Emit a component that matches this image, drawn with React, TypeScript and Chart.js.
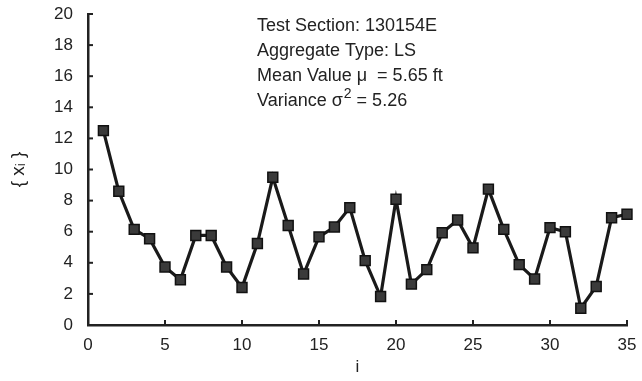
import React, { useEffect, useRef } from "react";
import { Chart, registerables } from "chart.js";

Chart.register(...registerables);

const indices = [
  1, 2, 3, 4, 5, 6, 7, 8, 9, 10, 11, 12, 13, 14, 15, 16, 17, 18, 19, 20, 21, 22, 23, 24, 25, 26, 27, 28, 29, 30, 31, 32, 33, 34, 35,
];
const values = [
  12.5, 8.6, 6.15, 5.55, 3.73, 2.91, 5.76, 5.76, 3.73, 2.41, 5.24, 9.5, 6.4, 3.28, 5.67, 6.3, 7.55, 4.14, 1.83, 8.09, 2.63, 3.56,
  5.93, 6.75, 4.96, 8.74, 6.15, 3.88, 2.96, 6.26, 6.0, 1.08, 2.48, 6.9, 7.12,
];
const annotationLines = [
  "Test Section: 130154E",
  "Aggregate Type: LS",
  "Mean Value \u03bc  = 5.65 ft",
];
const varianceLabel = "Variance \u03c3";
const varianceSup = "2";
const varianceValue = " = 5.26";

const FONT = "'Liberation Sans', Arial, Helvetica, sans-serif";
const INK = "#222";

const inwardTicks = {
  id: "inwardTicks",
  afterDraw(chart: any) {
    const ctx = chart.ctx;
    const xs = chart.scales.x;
    const ys = chart.scales.y;
    const area = chart.chartArea;
    ctx.save();
    ctx.strokeStyle = INK;
    ctx.lineWidth = 2;
    xs.ticks.forEach((t: any) => {
      const px = xs.getPixelForValue(t.value);
      ctx.beginPath();
      ctx.moveTo(px, area.bottom);
      ctx.lineTo(px, area.bottom - 5);
      ctx.stroke();
    });
    ys.ticks.forEach((t: any) => {
      const py = ys.getPixelForValue(t.value);
      ctx.beginPath();
      ctx.moveTo(area.left, py);
      ctx.lineTo(area.left + 5, py);
      ctx.stroke();
    });
    ctx.restore();
  },
};

const annotation = {
  id: "annotationText",
  afterDraw(chart: any) {
    const ctx = chart.ctx;
    ctx.save();
    ctx.fillStyle = INK;
    ctx.textBaseline = "alphabetic";
    ctx.textAlign = "left";
    ctx.font = `18px ${FONT}`;
    const x0 = 257;
    const base = 31;
    const step = 25;
    annotationLines.forEach((s, i) => {
      ctx.fillText(s, x0, base + i * step);
    });
    const y4 = base + 3 * step;
    ctx.fillText(varianceLabel, x0, y4);
    let x = x0 + ctx.measureText(varianceLabel).width + 1;
    ctx.font = `14px ${FONT}`;
    ctx.fillText(varianceSup, x, y4 - 8);
    x += ctx.measureText(varianceSup).width;
    ctx.font = `18px ${FONT}`;
    ctx.fillText(varianceValue, x, y4);
    ctx.restore();
  },
};

export default function App() {
  const ref = useRef<HTMLCanvasElement | null>(null);
  useEffect(() => {
    document.body.style.margin = "0";
    if (!ref.current) return;
    const chart = new Chart(ref.current, {
      type: "line",
      data: {
        datasets: [
          {
            data: indices.map((i, k) => ({ x: i, y: values[k] })),
            borderColor: "#1a1a1a",
            borderWidth: 3.2,
            pointStyle: "rect",
            pointRadius: 7,
            pointBackgroundColor: "#3a3a3a",
            pointBorderColor: "#111",
            pointBorderWidth: 1.5,
            tension: 0,
            clip: false,
          },
        ],
      },
      options: {
        responsive: false,
        animation: false,
        devicePixelRatio: 1,
        layout: { padding: { top: 14, right: 15, left: 0, bottom: 0 } },
        plugins: { legend: { display: false }, tooltip: { enabled: false } },
        scales: {
          x: {
            type: "linear",
            min: 0,
            max: 35,
            afterFit: (s: any) => {
              s.height = 56;
              s.paddingLeft = 0;
              s.paddingRight = 0;
            },
            ticks: { stepSize: 5, color: INK, font: { family: FONT, size: 17 }, padding: 10, maxRotation: 0 },
            grid: { display: true, drawOnChartArea: false, drawTicks: false },
            border: { color: INK, width: 2.5 },
            title: { display: true, text: "i", color: INK, font: { family: FONT, size: 17 }, padding: { top: 0, bottom: 3 } },
          },
          y: {
            min: 0,
            max: 20,
            afterFit: (s: any) => {
              s.width = 88;
              s.paddingTop = 0;
              s.paddingBottom = 0;
            },
            ticks: { stepSize: 2, color: INK, font: { family: FONT, size: 17 }, padding: 15 },
            grid: { display: true, drawOnChartArea: false, drawTicks: false },
            border: { color: INK, width: 2.5 },
            title: { display: true, text: "{ x\u1d62 }", color: INK, font: { family: FONT, size: 19 }, padding: { top: 7, bottom: 0 } },
          },
        },
      },
      plugins: [inwardTicks, annotation],
    });
    return () => chart.destroy();
  }, []);
  return (
    <div style={{ width: 642, height: 381, background: "#fff" }}>
      <canvas ref={ref} width={642} height={381} />
    </div>
  );
}
